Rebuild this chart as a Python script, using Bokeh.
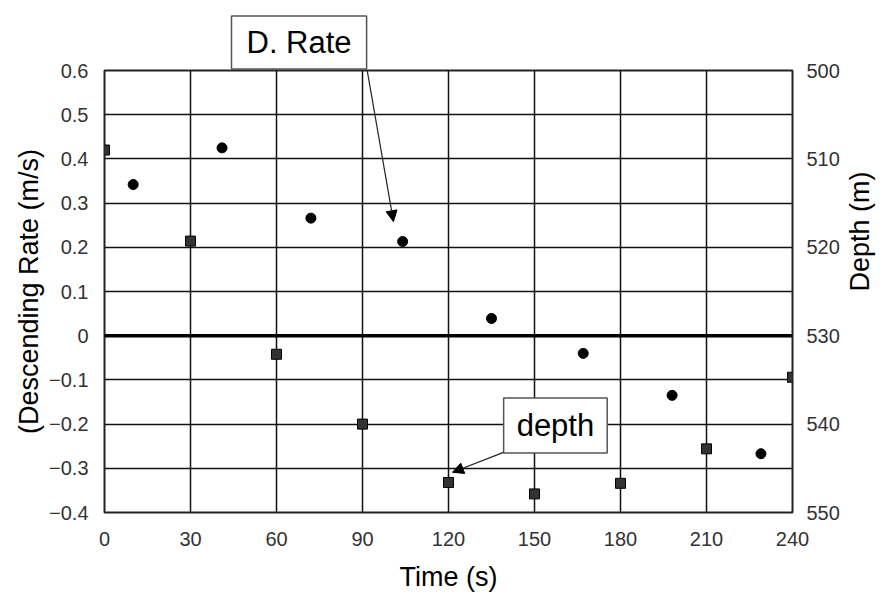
import math
from bokeh.plotting import figure
from bokeh.models import (Range1d, LinearAxis, FixedTicker, CustomJSTickFormatter,
                          Span, Label, Arrow, NormalHead, Title)
from bokeh.embed import file_html
from bokeh.resources import INLINE

# ---- data ----
rate_time = [10, 41, 72, 104, 135, 167, 198, 229]
rate = [0.342, 0.425, 0.266, 0.213, 0.039, -0.040, -0.135, -0.267]
depth_time = [0, 30, 60, 90, 120, 150, 180, 210, 240]
depth = [509.0, 519.3, 532.1, 540.0, 546.6, 547.9, 546.7, 542.8, 534.7]

x_ticks = [0, 30, 60, 90, 120, 150, 180, 210, 240]
rate_ticks = [-0.4, -0.3, -0.2, -0.1, 0, 0.1, 0.2, 0.3, 0.4, 0.5, 0.6]
depth_ticks = [500, 510, 520, 530, 540, 550]

FONT = "Liberation Sans"

p = figure(width=893, height=599, output_backend="svg", toolbar_location=None,
           x_range=Range1d(0, 240), y_range=Range1d(-0.4, 0.6),
           min_border_left=104, min_border_right=101, min_border_top=70,
           min_border_bottom=87)
p.extra_y_ranges = {"depth": Range1d(550, 500)}

p.outline_line_color = "#222222"
p.outline_line_width = 2
p.background_fill_color = "white"
p.border_fill_color = "white"

# "D. Rate" callout box sits above the frame -> use a boxed title
t = Title(text="D. Rate", align="left", offset=127, standoff=3,
          text_font=FONT, text_font_size="31px", text_font_style="normal",
          text_color="black", background_fill_color="white",
          border_line_color="#555555", border_line_width=1.5,
          padding=dict(top=9, bottom=9, left=15, right=15))
p.add_layout(t, "above")

# axes
p.xaxis.ticker = FixedTicker(ticks=x_ticks)
p.yaxis.ticker = FixedTicker(ticks=rate_ticks)
p.yaxis.formatter = CustomJSTickFormatter(
    code="return Math.abs(tick) < 1e-9 ? '0' : tick.toFixed(1).replace('-', '\u2212');")

right = LinearAxis(y_range_name="depth", ticker=FixedTicker(ticks=depth_ticks),
                   axis_label="Depth (m)")
p.add_layout(right, "right")

p.xaxis.axis_label = "Time (s)"
p.yaxis[0].axis_label = "(Descending Rate (m/s)"

for ax in [p.xaxis[0], p.yaxis[0], right]:
    ax.axis_line_color = None
    ax.major_tick_line_color = None
    ax.minor_tick_line_color = None
    ax.major_tick_out = 0
    ax.major_tick_in = 0
    ax.major_label_text_font = FONT
    ax.major_label_text_font_size = "20px"
    ax.major_label_text_color = "#333333"
    ax.axis_label_text_font = FONT
    ax.axis_label_text_font_size = "27px"
    ax.axis_label_text_font_style = "normal"
    ax.axis_label_text_color = "black"

p.xaxis.major_label_standoff = 19
p.xaxis.axis_label_standoff = 13
p.yaxis[0].major_label_standoff = 16
p.yaxis[0].axis_label_standoff = 2
right.major_label_standoff = 14
right.axis_label_standoff = 17
right.axis_label_orientation = math.pi / 2

# grid
p.xgrid.ticker = FixedTicker(ticks=x_ticks)
p.ygrid.ticker = FixedTicker(ticks=rate_ticks)
for g in [p.xgrid[0], p.ygrid[0]]:
    g.grid_line_color = "#111111"
    g.grid_line_width = 1.5
    g.grid_line_alpha = 1.0

p.add_layout(Span(location=0, dimension="width", line_color="black", line_width=3.5))

# data marks
p.scatter(depth_time, depth, y_range_name="depth", marker="square", size=10,
          fill_color="#333333", line_color="black", line_width=1)
p.scatter(rate_time, rate, marker="circle", size=10,
          fill_color="black", line_color="black")

# annotations
p.add_layout(Arrow(x_start=91.4, y_start=0.609, x_end=100.8, y_end=0.258,
                   line_color="#222222", line_width=1.2,
                   end=NormalHead(size=11, fill_color="black", line_color="black")))

p.add_layout(Label(x=157.3, y=-0.203, text="depth", anchor="center",
                   text_font=FONT, text_font_size="31px", text_color="black",
                   background_fill_color="white", border_line_color="#555555",
                   border_line_width=1.5,
                   padding=dict(top=10, bottom=10, left=13, right=13)))
p.add_layout(Arrow(x_start=139.2, y_start=-0.264, x_end=121.4, y_end=-0.309,
                   line_color="#222222", line_width=1.2,
                   end=NormalHead(size=11, fill_color="black", line_color="black")))

open("out.html", "w").write(file_html(p, INLINE))
